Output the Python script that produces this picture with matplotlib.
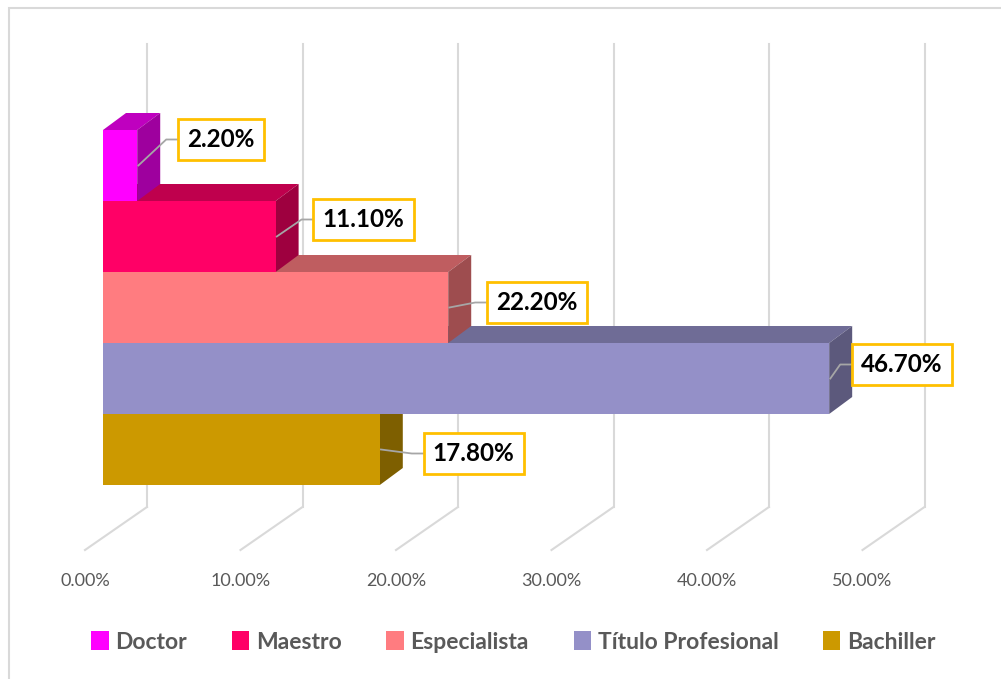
import matplotlib
matplotlib.use("Agg")
import matplotlib.pyplot as plt
from matplotlib.patches import Polygon, Rectangle
import numpy as np

# data
categorias = ["Doctor", "Maestro", "Especialista", "Título Profesional", "Bachiller"]
valores = [2.2, 11.1, 22.2, 46.7, 17.8]
colores = ["#FF00FF", "#FF0066", "#FF7C80", "#9490C8", "#CC9900"]
ticks = [0, 10, 20, 30, 40, 50]
tick_labels = ["0.00%", "10.00%", "20.00%", "30.00%", "40.00%", "50.00%"]

# geometry (pixel based, converted to data units)
W, H = 1001, 679
x0_px, px_per_pct = 103, 15.55
y0_px, px_per_bar = 485, 71.0
depth = (23 / px_per_pct, 17 / px_per_bar)       # bar depth offset
wall = (44 / px_per_pct, -22 / px_per_bar)        # back wall base offset
floor_front = (-18 / px_per_pct, -65 / px_per_bar)
wall_top = 441 / px_per_bar

fig = plt.figure(figsize=(W / 100, H / 100), dpi=100)
ax = fig.add_axes([0, 0, 1, 1])
ax.set_xlim(-x0_px / px_per_pct, (W - x0_px) / px_per_pct)
ax.set_ylim(-(H - y0_px) / px_per_bar, y0_px / px_per_bar)
ax.axis("off")

font = "Lato"
grid_c = "#D9D9D9"

# chart border
fig.patches.append(Rectangle((9 / W, -0.1), 2.0, 1 - 8 / H + 0.1, transform=fig.transFigure,
                             fill=False, edgecolor="#D9D9D9", linewidth=1.5))

# back wall gridlines + floor lines + tick labels
for t, lab in zip(ticks, tick_labels):
    bx, by = t + wall[0], wall[1]
    ax.plot([bx, bx], [by, wall_top], color=grid_c, lw=1.5, zorder=1)
    fx, fy = t + floor_front[0], floor_front[1]
    ax.plot([bx, fx], [by, fy], color=grid_c, lw=1.5, zorder=1)
    ax.text(fx, fy - 31 / px_per_bar, lab, ha="center", va="center",
            fontsize=13, color="#595959", family=font)


def shade(c, f):
    r, g, b = matplotlib.colors.to_rgb(c)
    return (r * f, g * f, b * f)


n = len(categorias)
dx, dy = depth
label_off = [(18, -26), (15, -17), (16, -5), (0, -14), (21, 4)]
for i, (cat, v, c) in enumerate(zip(categorias, valores, colores)):
    y = n - 1 - i
    z = 20 - i  # upper bars drawn on top
    # top face
    ax.add_patch(Polygon([(0, y + 1), (v, y + 1), (v + dx, y + 1 + dy), (dx, y + 1 + dy)],
                         closed=True, facecolor=shade(c, 0.75), edgecolor="none", zorder=z))
    # side face
    ax.add_patch(Polygon([(v, y), (v + dx, y + dy), (v + dx, y + 1 + dy), (v, y + 1)],
                         closed=True, facecolor=shade(c, 0.62), edgecolor="none", zorder=z))
    # front face
    ax.add_patch(Rectangle((0, y), v, 1, facecolor=c, edgecolor="none", zorder=z))

    # label with leader
    ox, oy = label_off[i]
    lx = v + dx + ox / px_per_pct
    ly = y + 0.5 - oy / px_per_bar
    sx, sy = v + dx * 0.05, y + 0.5
    ax.plot([sx, lx - 12 / px_per_pct, lx], [sy, ly, ly], color="#A6A6A6", lw=1.3, zorder=30)
    ax.text(lx + 9 / px_per_pct, ly, f"{v:.2f}%", ha="left", va="center", fontsize=17.5,
            fontweight="bold", family=font, color="black", zorder=31,
            bbox=dict(boxstyle="square,pad=0.38", facecolor="white", edgecolor="#FFC000", lw=2))

# legend
handles = [Rectangle((0, 0), 1, 1, facecolor=c) for c in colores]
leg = fig.legend(handles, categorias, loc="center", bbox_to_anchor=(0.513, 1 - 642 / H),
                 ncol=5, frameon=False, handlelength=0.75, handleheight=0.85,
                 handletextpad=0.3, columnspacing=1.95,
                 prop={"family": font, "weight": "bold", "size": 16.5})
for t in leg.get_texts():
    t.set_color("#595959")

fig.savefig("out.png", dpi=100)
